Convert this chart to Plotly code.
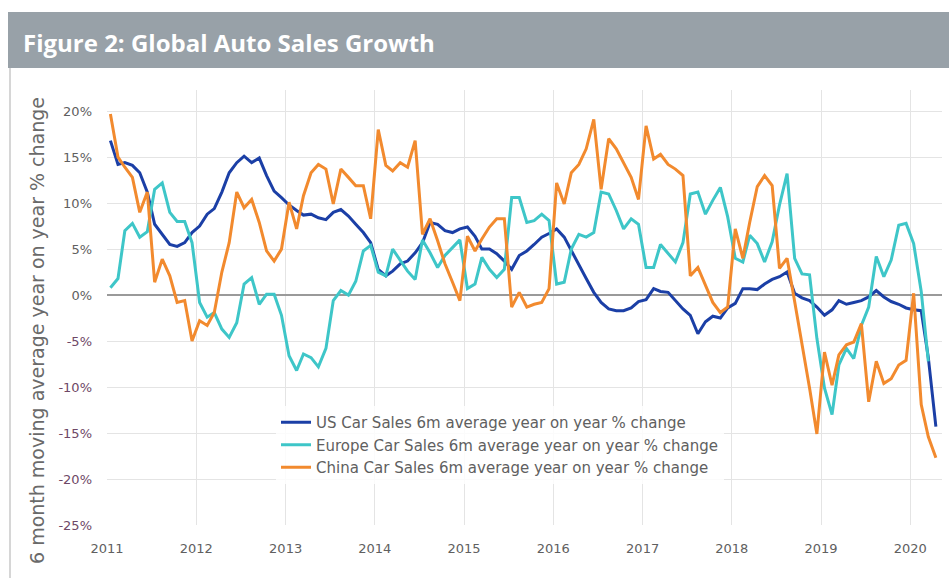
import pandas as pd
import plotly.graph_objects as go

# Monthly data, Jan 2011 - Apr 2020 (6m average y/y % change)
start_month = "2011-01-01"
n_months = 112

us_sales = [16.8, 14.2, 14.4, 14.1, 13.3, 11.2, 7.7, 6.6, 5.5, 5.3, 5.7, 6.8,
            7.5, 8.8, 9.4, 11.2, 13.3, 14.4, 15.1, 14.4, 14.9, 13.0, 11.3, 10.6,
            9.8, 9.2, 8.7, 8.8, 8.4, 8.2, 9.0, 9.3, 8.6, 7.7, 6.8, 5.7,
            2.8, 2.1, 2.6, 3.4, 3.7, 4.6, 5.7, 7.9, 7.7, 7.0, 6.8, 7.2,
            7.4, 6.4, 5.0, 5.0, 4.5, 3.7, 2.8, 4.3, 4.8, 5.5, 6.3, 6.7,
            7.2, 6.3, 4.8, 3.2, 1.8, 0.3, -0.8, -1.5, -1.7, -1.7, -1.4, -0.7,
            -0.5, 0.7, 0.4, 0.3, -0.6, -1.5, -2.2, -4.2, -2.9, -2.3, -2.5, -1.4,
            -0.9, 0.7, 0.7, 0.6, 1.2, 1.7, 2.0, 2.5, 0.2, -0.3, -0.6, -1.3,
            -2.2, -1.6, -0.6, -1.0, -0.8, -0.6, -0.2, 0.5, -0.2, -0.7, -1.0, -1.4,
            -1.6, -1.7, -6.8, -14.3]

europe_sales = [0.8, 1.8, 7.0, 7.8, 6.3, 6.9, 11.5, 12.2, 9.0, 8.0, 8.0, 5.7,
                -0.8, -2.4, -1.9, -3.7, -4.6, -3.0, 1.2, 1.9, -1.0, 0.1, 0.1, -2.2,
                -6.6, -8.2, -6.4, -6.8, -7.8, -5.8, -0.6, 0.5, 0.0, 1.5, 4.8, 5.4,
                2.5, 2.1, 5.0, 3.8, 2.6, 1.7, 6.0, 4.6, 3.0, 4.3, 5.2, 6.0,
                0.7, 1.2, 4.1, 2.8, 1.9, 2.8, 10.6, 10.6, 7.9, 8.1, 8.8, 8.1,
                1.2, 1.4, 5.0, 6.6, 6.3, 6.8, 11.2, 11.0, 9.2, 7.2, 8.3, 7.7,
                3.0, 3.0, 5.5, 4.5, 3.6, 5.7, 11.0, 11.2, 8.8, 10.3, 11.7, 8.5,
                4.0, 3.6, 6.5, 5.6, 3.6, 5.8, 9.8, 13.2, 4.0, 2.3, 2.2, -4.7,
                -10.1, -13.0, -7.6, -5.8, -6.9, -3.3, -1.3, 4.2, 2.0, 3.8, 7.6, 7.8,
                5.6, 0.4, -7.2, None]

china_sales = [19.7, 15.0, 13.9, 12.8, 9.0, 11.2, 1.4, 3.9, 2.1, -0.8, -0.6, -5.0,
               -2.8, -3.3, -1.9, 2.5, 5.7, 11.2, 9.5, 10.4, 7.9, 4.8, 3.7, 5.0,
               10.1, 7.2, 10.8, 13.3, 14.2, 13.7, 9.9, 13.7, 12.8, 11.9, 11.9, 8.3,
               18.0, 14.1, 13.5, 14.4, 13.9, 16.8, 6.6, 8.3, 5.9, 3.4, 1.4, -0.6,
               6.4, 4.8, 6.1, 7.4, 8.3, 8.3, -1.3, 0.3, -1.3, -1.0, -0.8, 0.7,
               12.2, 9.9, 13.3, 14.2, 15.9, 19.1, 11.5, 17.0, 15.9, 14.4, 12.8, 10.4,
               18.4, 14.8, 15.3, 14.2, 13.7, 13.0, 2.1, 3.0, 1.0, -0.8, -1.9, -1.3,
               7.2, 4.0, 7.9, 11.8, 13.0, 11.9, 2.9, 4.0, -0.7, -5.1, -10.1, -15.1,
               -6.2, -9.8, -6.5, -5.4, -5.1, -3.1, -11.6, -7.2, -9.6, -9.1, -7.6, -7.1,
               0.2, -11.9, -15.4, -17.7]

series_names = ["US Car Sales 6m average year on year % change",
                "Europe Car Sales 6m average year on year % change",
                "China Car Sales 6m average year on year % change"]
series_colors = ["#1b3fa6", "#3ec6c8", "#f28a2e"]

y_tick_values = [20, 15, 10, 5, 0, -5, -10, -15, -20, -25]
y_tick_labels = ["20%", "15%", "10%", "5%", "0%", "-5%", "-10%", "-15%", "-20%", "-25%"]

dates = pd.date_range(start_month, periods=n_months, freq="MS") + pd.Timedelta(days=14)

FONT = "DejaVu Sans"
fig = go.Figure()
for name, vals, col in zip(series_names, [us_sales, europe_sales, china_sales], series_colors):
    fig.add_trace(go.Scatter(x=dates, y=vals, mode="lines", name=name,
                             line=dict(color=col, width=3)))

W, H = 949, 578
L, R, T, B = 107, 7, 90, 53
pw, ph = W - L - R, H - T - B


def px(xp):
    return (xp - L) / pw


def py(yp):
    return (H - B - yp) / ph


ticktext = []
for v, t in zip(y_tick_values, y_tick_labels):
    c = "#6e4866" if v < 0 else "#606060"
    ticktext.append(f"<span style='color:{c}'>{t}</span>")

fig.update_layout(
    width=W, height=H,
    margin=dict(l=L, r=R, t=T, b=B),
    paper_bgcolor="white", plot_bgcolor="white",
    font=dict(family=FONT, color="#606060", size=13),
    showlegend=True,
    legend=dict(x=px(276), y=py(406), xanchor="left", yanchor="top",
                bgcolor="rgba(255,255,255,0.85)", font=dict(size=15, color="#606060", family=FONT),
                tracegroupgap=0, itemwidth=30),
    xaxis=dict(type="date", range=["2011-01-01", "2020-05-10"],
               tick0="2011-01-01", dtick="M12", tickformat="%Y",
               showgrid=True, gridcolor="#e4e4e4", gridwidth=1,
               zeroline=False, showline=False, ticks="",
               ticklabelstandoff=14,
               tickfont=dict(size=13, color="#606060")),
    yaxis=dict(range=[-25, 22.3], tickvals=y_tick_values, ticktext=ticktext,
               showgrid=True, gridcolor="#e4e4e4", gridwidth=1,
               zeroline=True, zerolinecolor="#9a9a9a", zerolinewidth=2,
               showline=False, ticks="", ticklabelstandoff=14,
               tickfont=dict(size=13)),
    shapes=[
        dict(type="rect", xref="paper", yref="paper",
             x0=px(8), x1=px(949), y0=py(68), y1=py(12),
             fillcolor="#98a1a8", line=dict(width=0), layer="above"),
        dict(type="line", xref="paper", yref="paper",
             x0=px(10), x1=px(10), y0=py(68), y1=py(578),
             line=dict(color="#c9c9c9", width=1.5)),
    ],
    annotations=[
        dict(text="<b>Figure 2: Global Auto Sales Growth</b>", xref="paper", yref="paper",
             x=px(21), y=py(43), xanchor="left", yanchor="middle", showarrow=False,
             font=dict(family="Open Sans", size=24, color="white")),
        dict(text="6 month moving average year on year % change", xref="paper", yref="paper",
             x=px(37), y=py(331), xanchor="center", yanchor="middle", showarrow=False,
             textangle=-90, font=dict(family=FONT, size=19, color="#6a6a6a")),
    ],
)

fig.write_html("out.html")
